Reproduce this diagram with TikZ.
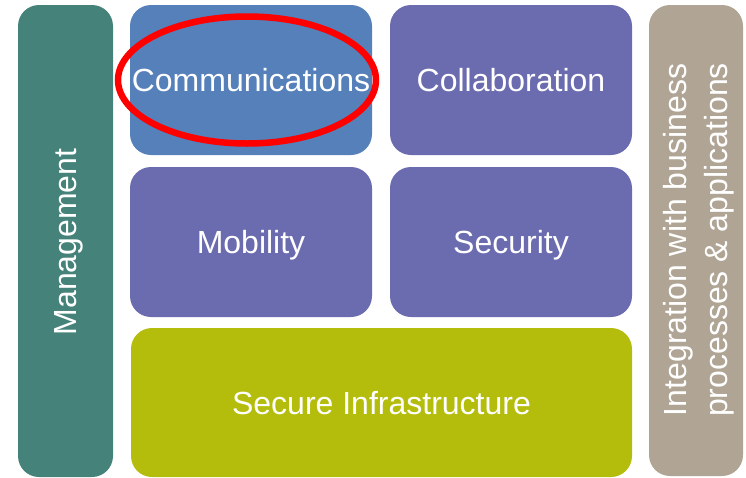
\documentclass[tikz,border=0pt]{standalone}
\usepackage{fontspec}
\setmainfont{Liberation Sans}
\usetikzlibrary{shapes.geometric}
\definecolor{mgmt}{HTML}{44827A}
\definecolor{comm}{HTML}{5580BA}
\definecolor{purp}{HTML}{6B6BAF}
\definecolor{infra}{HTML}{B5BD0C}
\definecolor{integ}{HTML}{B0A595}
\definecolor{hl}{HTML}{FF0000}
\begin{document}
\begin{tikzpicture}[x=1pt,y=-1pt,
  tile/.style={rounded corners=21pt, inner sep=0pt, outer sep=0pt, text=white,
    font=\fontsize{32}{38}\selectfont, text height=23pt, text depth=0pt},
  hlring/.style={ellipse, draw=hl, line width=6.5pt, inner sep=0pt, fill=none}]
\useasboundingbox (0,0) rectangle (746,477);
\node[tile, fill=mgmt, minimum width=95pt, minimum height=472pt] (mgmt) at (65.5,241) {};
\node[tile, fill=comm, minimum width=242pt, minimum height=150pt] (comm) at (251,80) {Communications};
\node[tile, fill=purp, minimum width=242pt, minimum height=150pt] (collab) at (511,80) {Collaboration};
\node[tile, fill=purp, minimum width=242pt, minimum height=150pt] (mob) at (251,242) {Mobility};
\node[tile, fill=purp, minimum width=242pt, minimum height=150pt] (sec) at (511,242) {Security};
\node[tile, fill=infra, minimum width=501pt, minimum height=149pt] (infra) at (381.5,402.5) {Secure Infrastructure};
\node[tile, fill=integ, minimum width=94pt, minimum height=471pt] (integ) at (696,240.5) {};
\node[text=white, font=\fontsize{32}{38}\selectfont, rotate=90, inner sep=0pt] (mgmttxt) at (69,242) {Management};
\node[text=white, font=\fontsize{32}{41}\selectfont, rotate=90, align=center, inner sep=0pt] (integtxt) at (699,240) {Integration with business\\processes \& applications};
\node[hlring, minimum width=258pt, minimum height=127pt] (ring) at (247,80) {};
\end{tikzpicture}
\end{document}
